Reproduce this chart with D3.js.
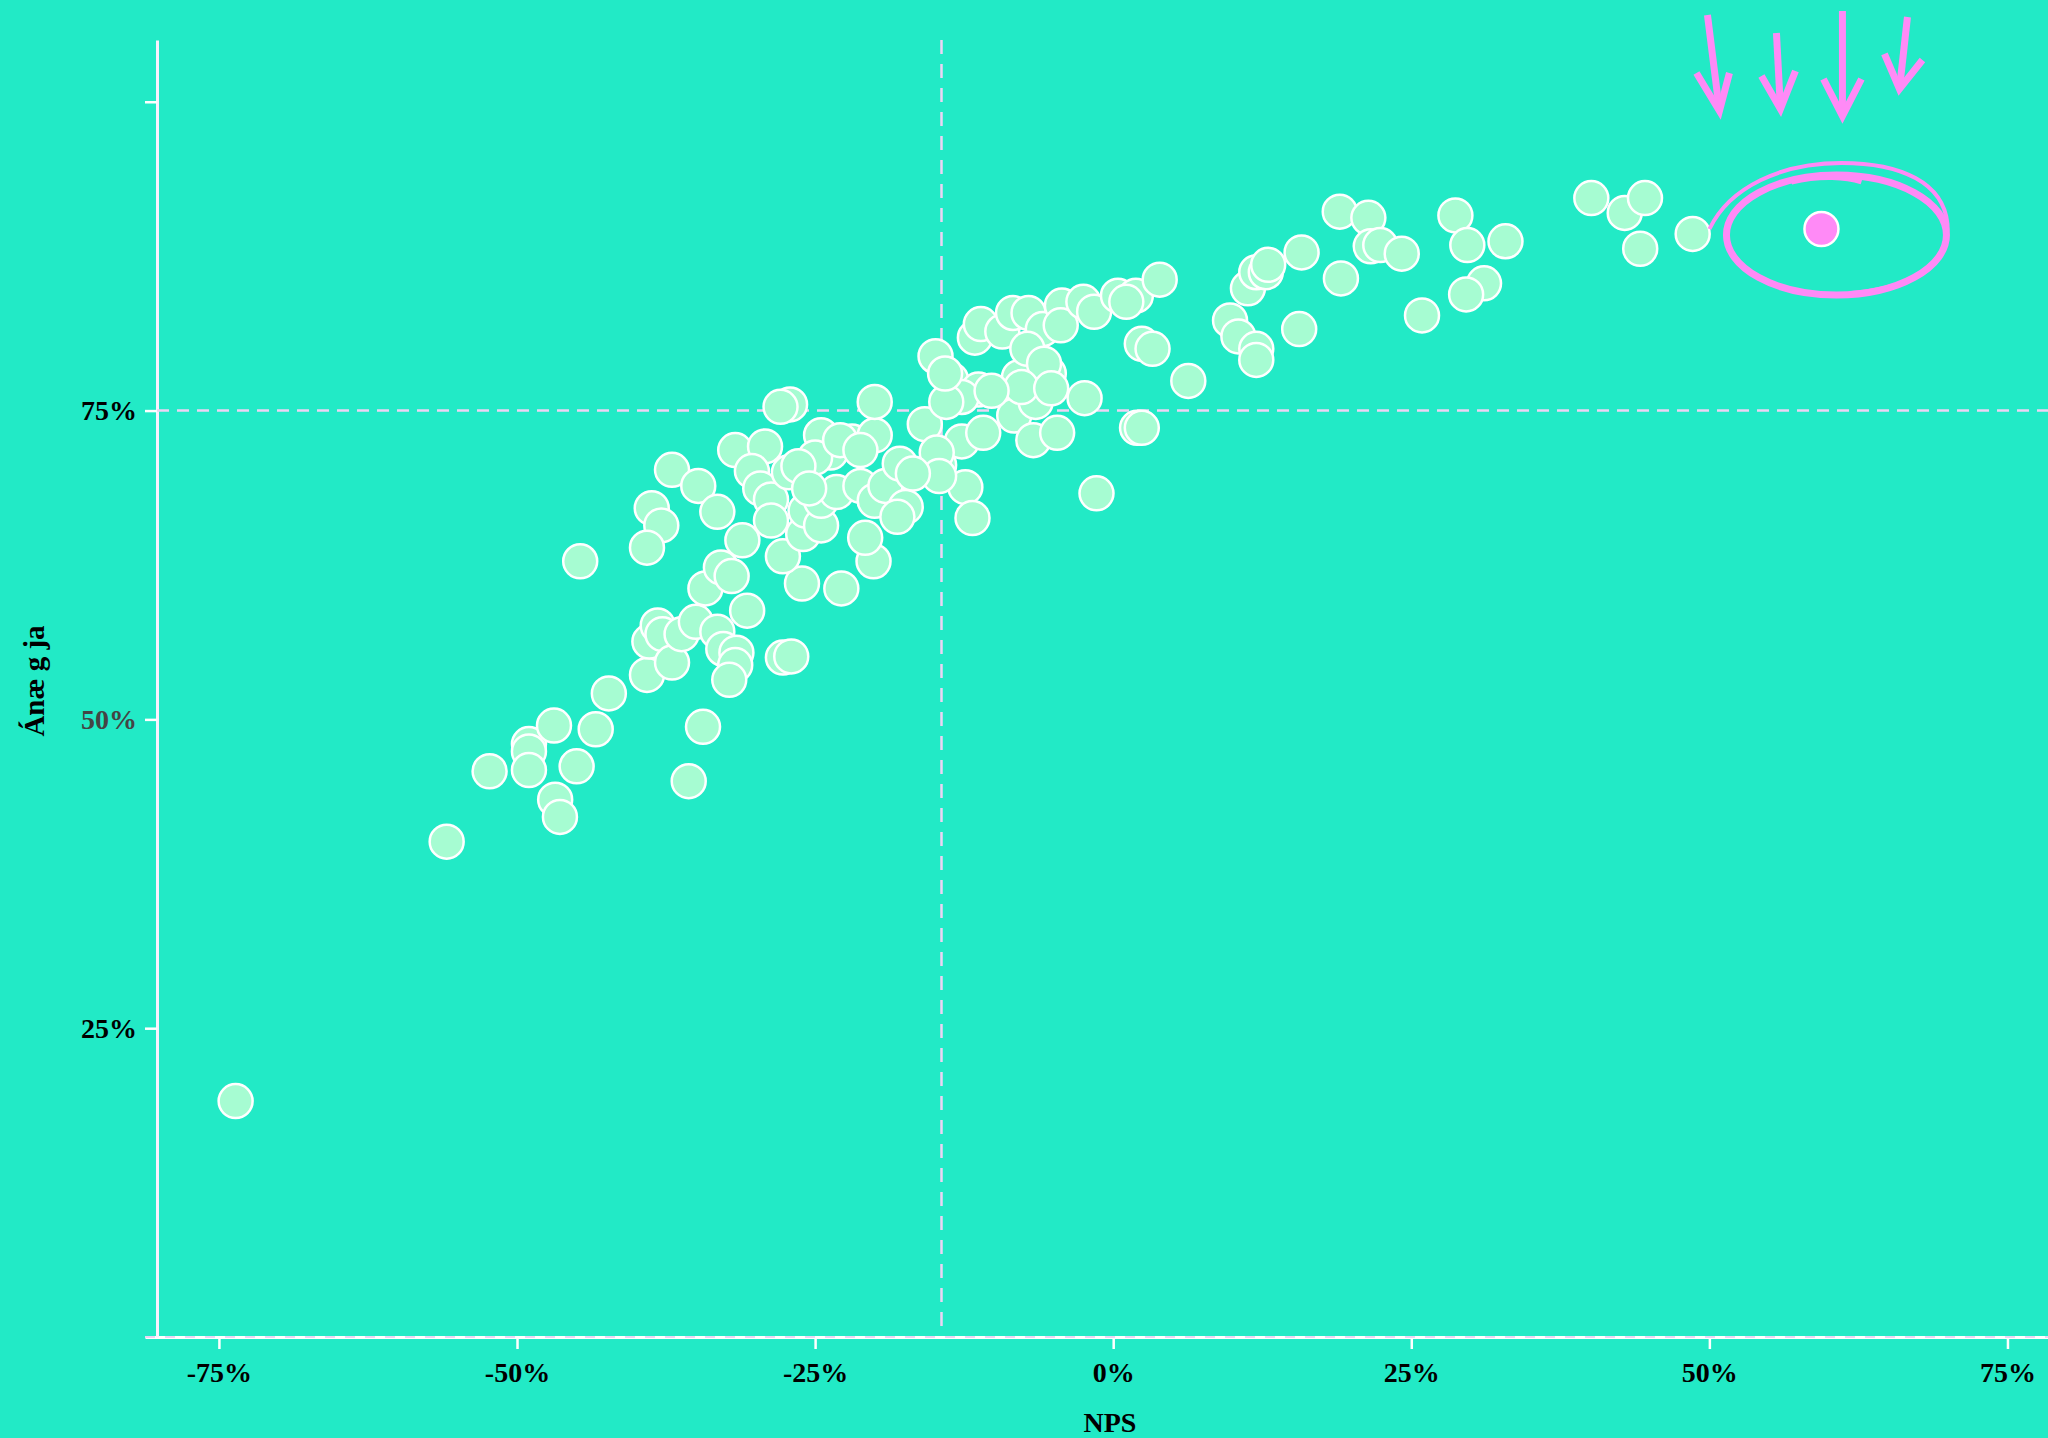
<!DOCTYPE html>
<html>
<head>
<meta charset="utf-8">
<script src="https://cdn.jsdelivr.net/npm/d3@7"></script>
<style>
  html, body { margin: 0; padding: 0; background: #22eac6; }
  svg { display: block; }
  .tick text { font-family: "Liberation Serif", serif; font-weight: bold; font-size: 28px; }
</style>
</head>
<body>
<svg width="2048" height="1438"></svg>
<script>
// NPS (x) and share (y) for each point, in percent
const nps = [
  -73.6, -55.9, -52.3, -49.0, -49.0, -49.0, -46.9, -45.0, -46.8, -46.4,
  -44.7, -43.4, -42.3, -39.1, -38.9, -38.2, -37.8, -37.0, -35.6, -34.4,
  -36.2, -35.0, -33.2, -32.7, -31.6, -31.7, -32.2, -27.7, -27.0, -34.2,
  -32.9, -32.0, -30.7, -26.1, -22.8, -20.1, -20.8, -37.0, -34.8, -38.7,
  -37.9, -39.1, -33.2, -31.7, -29.2, -30.3, -29.6, -28.7, -28.7, -27.2,
  -31.1, -27.7, -26.0, -25.8, -24.5, -24.5, -23.2, -23.7, -24.5, -25.0,
  -21.9, -21.2, -20.0, -20.0, -20.0, -27.1, -27.9, -19.1, -17.9, -17.4,
  -18.1, -15.8, -14.6, -12.4, -11.8, -12.7, -13.6, -11.3, -12.7, -14.0,
  -10.9, -8.3, -6.7, -6.5, -4.7, -7.9, -5.4, -2.4, -1.4, -14.8,
  -14.9, -14.1, -11.6, -11.1, -9.3, -8.4, -7.1, -5.9, -4.3, -4.4,
  -2.5, -1.6, 0.4, 1.9, 1.1, 3.9, -7.2, -5.8, -7.7, 2.4,
  3.3, 6.3, 2.0, 2.4, 9.8, 10.5, 12.0, 12.0, 11.3, 12.0,
  12.8, 13.0, 15.8, 15.6, 19.0, 21.4, 21.6, 22.4, 24.2, 19.1,
  25.9, 28.7, 29.7, 32.9, 31.1, 29.6, 40.1, 42.9, 44.6, 44.2,
  48.6, -22.9, -21.2, -14.6, -26.4, -25.5, -16.8, -10.2, -5.2
];
const agree = [
  19.1, 40.1, 45.8, 48.0, 47.4, 45.9, 49.5, 46.2, 43.5, 42.1,
  62.8, 49.2, 52.1, 53.6, 56.3, 57.6, 56.9, 54.6, 45.0, 49.4,
  56.9, 57.9, 57.1, 55.7, 55.4, 54.4, 53.2, 55.0, 55.1, 60.6,
  62.3, 61.6, 58.8, 61.0, 60.6, 62.8, 64.7, 70.2, 68.9, 67.1,
  65.7, 63.9, 66.8, 71.8, 72.1, 70.1, 68.7, 67.8, 66.1, 70.0,
  64.5, 63.2, 65.0, 66.9, 65.7, 67.7, 68.4, 71.6, 73.0, 71.2,
  72.5, 68.9, 67.7, 73.0, 75.7, 75.5, 75.3, 68.9, 70.7, 67.2,
  66.4, 73.9, 70.6, 68.8, 66.3, 72.5, 77.5, 76.7, 76.1, 75.7,
  73.2, 74.6, 72.6, 75.7, 73.2, 77.7, 78.0, 76.0, 68.3, 71.6,
  79.4, 78.0, 80.9, 82.0, 81.4, 82.9, 82.9, 81.6, 83.5, 81.9,
  83.8, 83.0, 84.3, 84.3, 83.8, 85.6, 80.0, 78.8, 76.9, 80.4,
  80.0, 77.4, 73.6, 73.6, 82.3, 81.0, 80.0, 79.1, 84.9, 86.2,
  86.2, 86.8, 87.8, 81.6, 91.1, 90.6, 88.3, 88.4, 87.7, 85.7,
  82.7, 90.8, 88.4, 88.7, 85.3, 84.4, 92.2, 91.0, 92.2, 88.1,
  89.3, 72.6, 71.8, 69.7, 70.5, 68.7, 69.9, 76.6, 76.8
];

// the highlighted point
const highlightNps = 59.4;
const highlightAgree = 89.7;

// reference lines
const refNps = -14.4;
const refAgree = 75;

const xTicks = [-75, -50, -25, 0, 25, 50, 75];
const yTicks = [25, 50, 75, 100];

const points = nps.map((d, i) => ({x: d, y: agree[i]}));

const svg = d3.select("svg");
const width = +svg.attr("width");
const height = +svg.attr("height");

const bg = "#22eac6";
const pink = "#ff8af6";
const dashColor = "#ecd4f4";

svg.append("rect")
    .attr("width", width)
    .attr("height", height)
    .attr("fill", bg);

const x = d3.scaleLinear().domain([-81.2, 78.4]).range([145, 2048]);
const y = d3.scaleLinear().domain([0, 105]).range([1337, 40]);
const axisX = 157;

// x axis
const gx = svg.append("g")
    .attr("transform", `translate(0,${y(0)})`)
    .call(d3.axisBottom(x).tickValues(xTicks).tickSize(12).tickSizeOuter(0).tickPadding(6)
      .tickFormat(d => d + "%"));
gx.select(".domain").attr("stroke", "#fff").attr("stroke-width", 3);
gx.selectAll(".tick line").attr("stroke", "#fff").attr("stroke-width", 2.5);
gx.selectAll(".tick text").attr("fill", "#000").attr("dy", "0.95em");

svg.append("line")
    .attr("x1", x.range()[0]).attr("x2", width)
    .attr("y1", y(0)).attr("y2", y(0))
    .attr("stroke", dashColor)
    .attr("stroke-width", 2)
    .attr("stroke-dasharray", "10,10");

// y axis
const gy = svg.append("g")
    .attr("transform", `translate(${axisX},0)`)
    .call(d3.axisLeft(y).tickValues(yTicks).tickSize(12).tickSizeOuter(0).tickPadding(8)
      .tickFormat(d => d === 100 ? "" : d + "%"));
gy.select(".domain").attr("stroke", "#fbf0ff").attr("stroke-width", 3);
gy.selectAll(".tick line").attr("stroke", "#fff").attr("stroke-width", 2.5);
gy.selectAll(".tick text").attr("fill", d => d === 50 ? "#444" : "#000");

// axis titles
svg.append("text")
    .attr("x", 1110)
    .attr("y", 1432)
    .attr("text-anchor", "middle")
    .attr("font-family", "Liberation Serif, serif")
    .attr("font-weight", "bold")
    .attr("font-size", 28)
    .text("NPS");

svg.append("text")
    .attr("transform", "translate(44,681) rotate(-90)")
    .attr("text-anchor", "middle")
    .attr("font-family", "Liberation Serif, serif")
    .attr("font-weight", "bold")
    .attr("font-size", 29)
    .text("Ánæ g ja");

// dashed reference lines
svg.append("line")
    .attr("x1", x(refNps)).attr("x2", x(refNps))
    .attr("y1", y.range()[1]).attr("y2", y(0) - 6)
    .attr("stroke", dashColor)
    .attr("stroke-width", 2.5)
    .attr("stroke-dasharray", "14,10");

svg.append("line")
    .attr("x1", axisX).attr("x2", width)
    .attr("y1", y(refAgree)).attr("y2", y(refAgree))
    .attr("stroke", dashColor)
    .attr("stroke-width", 2.5)
    .attr("stroke-dasharray", "12,8");

// points
svg.append("g")
  .selectAll("circle")
  .data(points)
  .enter().append("circle")
    .attr("cx", d => x(d.x))
    .attr("cy", d => y(d.y))
    .attr("r", 17)
    .attr("fill", "#a6fcd2")
    .attr("stroke", "#fff")
    .attr("stroke-width", 2.5);

const hx = x(highlightNps);
const hy = y(highlightAgree);

svg.append("circle")
    .attr("cx", hx)
    .attr("cy", hy)
    .attr("r", 17)
    .attr("fill", pink)
    .attr("stroke", "#fff")
    .attr("stroke-width", 2.5);

// hand drawn annotation round the highlighted point
const note = svg.append("g")
    .attr("transform", `translate(${hx},${hy})`)
    .attr("fill", "none")
    .attr("stroke", pink)
    .attr("stroke-linecap", "butt");

note.append("ellipse")
    .attr("cx", 15).attr("cy", 6)
    .attr("rx", 110).attr("ry", 60)
    .attr("stroke-width", 7);

note.append("path")
    .attr("d", "M-112,0 C-92,-42 -40,-66 20,-66 C80,-66 122,-46 126,-5 C128,30 100,58 30,64")
    .attr("stroke-width", 4);

note.append("path")
    .attr("d", "M-30,-47 C0,-54 25,-52 40,-47")
    .attr("stroke-width", 5);

const arrows = [
  {shaft: [[-114, -214], [-102, -118]], head: [[-125, -156], [-102, -118], [-92, -156]]},
  {shaft: [[-45, -196], [-41, -120]], head: [[-60, -153], [-41, -120], [-26, -158]]},
  {shaft: [[21, -218], [21, -113]], head: [[2, -150], [21, -113], [40, -150]]},
  {shaft: [[86, -212], [78, -140]], head: [[63, -175], [78, -140], [101, -169]]}
];

const line = d3.line();
arrows.forEach(a => {
  note.append("path").attr("d", line(a.shaft)).attr("stroke-width", 7);
  note.append("path").attr("d", line(a.head)).attr("stroke-width", 7)
      .attr("stroke-linejoin", "miter");
});
</script>
</body>
</html>
